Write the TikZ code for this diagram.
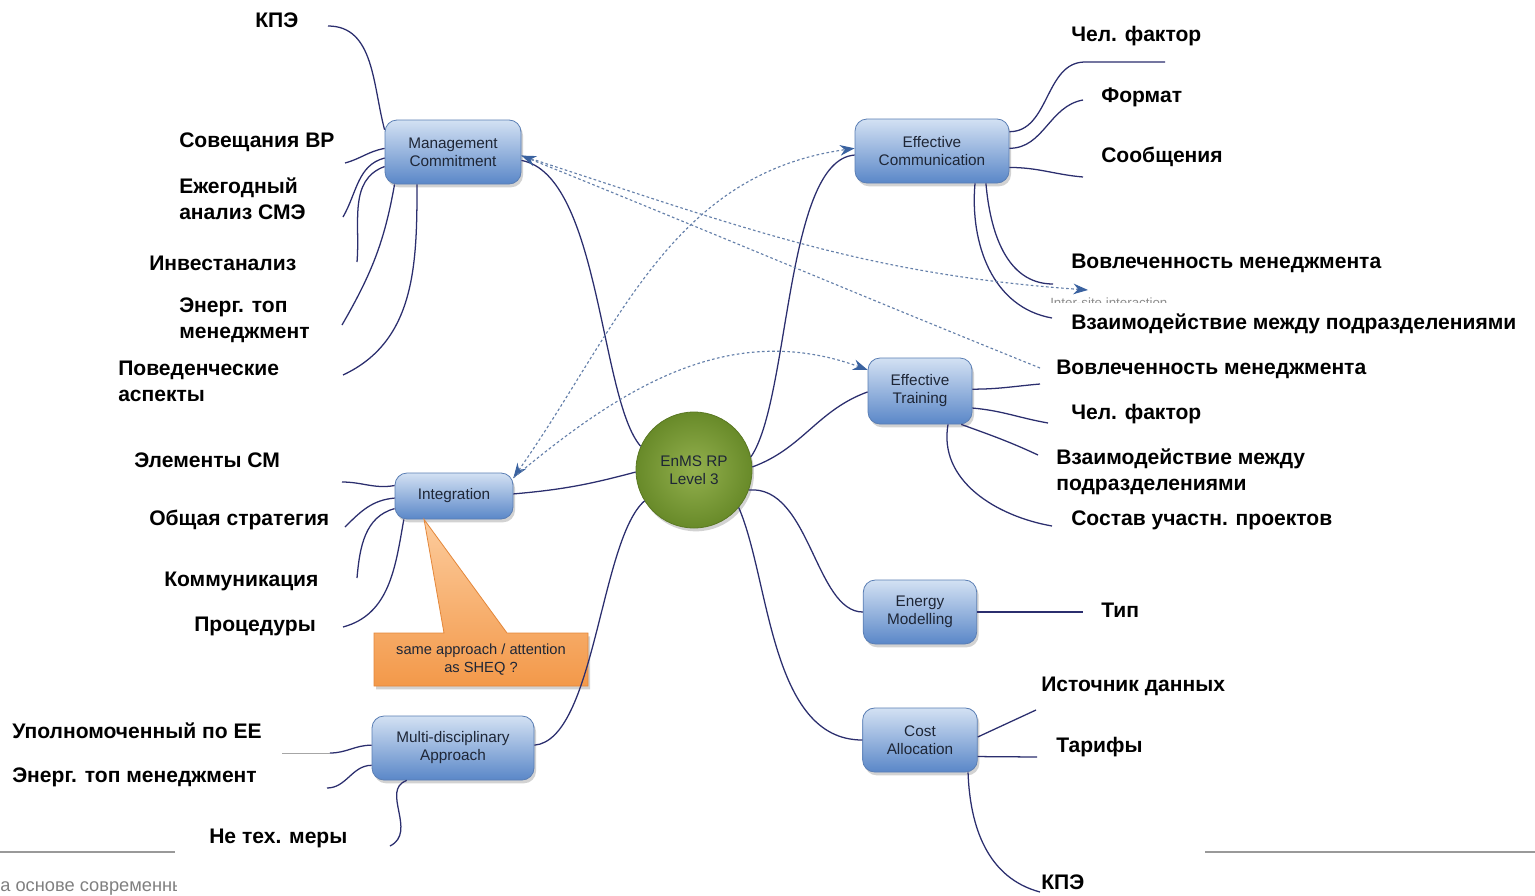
\documentclass[tikz,border=0pt]{standalone}
\usepackage{fontspec}
\setmainfont{Liberation Sans}
\usetikzlibrary{arrows.meta,shadows}
\definecolor{navy}{HTML}{2B2E6E}
\definecolor{linkblue}{HTML}{6580AA}
\definecolor{arrowblue}{HTML}{3A62A0}
\definecolor{boxtop}{HTML}{D3E1F3}
\definecolor{boxbot}{HTML}{5A87C8}
\definecolor{boxedge}{HTML}{5A7EB4}
\definecolor{boxtext}{HTML}{1E2636}
\definecolor{hubin}{HTML}{93B04E}
\definecolor{hubout}{HTML}{688A29}
\definecolor{hubedge}{HTML}{5A7823}
\definecolor{calltop}{HTML}{FCCB9C}
\definecolor{callbot}{HTML}{F3994A}
\definecolor{calledge}{HTML}{E4873A}
\begin{document}
\begin{tikzpicture}[x=0.75pt,y=-0.75pt,
  topic/.style={rectangle,rounded corners=9pt,draw=boxedge,line width=0.6pt,top color=boxtop,bottom color=boxbot,
    drop shadow={opacity=0.35,shadow xshift=1.5pt,shadow yshift=-2.5pt},
    font=\fontsize{11.5}{13.5}\selectfont,text=boxtext,align=center,inner sep=2pt,minimum height=48pt},
  hub/.style={circle,draw=hubedge,line width=0.6pt,inner color=hubin,outer color=hubout,minimum size=87pt,
    drop shadow={opacity=0.35,shadow xshift=1.5pt,shadow yshift=-2.5pt},
    font=\fontsize{11.5}{13.5}\selectfont,text=boxtext,align=center},
  callout/.style={draw=calledge,line width=0.6pt,top color=calltop,bottom color=callbot,
    drop shadow={opacity=0.35,shadow xshift=1.5pt,shadow yshift=-2.5pt}},
  lbl/.style={anchor=west,align=left,inner sep=0pt,font=\bfseries\fontsize{15.8}{19.5}\selectfont},
  branch/.style={draw=navy,line width=0.95pt},
  link/.style={draw=linkblue,line width=0.85pt,dash pattern=on 2pt off 1.8pt,
    >={Stealth[length=11pt,width=8pt,color=arrowblue]}},
  footer/.style={draw=black!40,line width=1.5pt}]
  \path[use as bounding box,fill=white] (0,0) rectangle (1535,896);

  \node[hub] (enms) at (694,470) {EnMS RP\\Level 3};
  \node[topic,minimum width=102pt] (mc) at (453,152) {Management\\Commitment};
  \node[topic,minimum width=115.5pt] (ec) at (932,151) {Effective\\Communication};
  \node[topic,minimum width=78pt,minimum height=49.5pt] (et) at (920,391) {Effective\\Training};
  \node[topic,minimum width=88.5pt,minimum height=34.5pt] (ig) at (454,496) {Integration};
  \node[topic,minimum width=85pt] (em) at (920,612) {Energy\\Modelling};
  \node[topic,minimum width=86pt] (ca) at (920,740) {Cost\\Allocation};
  \node[topic,minimum width=121.5pt] (ma) at (453,748) {Multi-disciplinary\\Approach};

  \path[callout] (374,633) -- (444,633) -- (ig.218) -- (507,633) -- (588,633) -- (588,686) -- (374,686) -- cycle;
  \node[font=\fontsize{11}{13.5}\selectfont,text=boxtext,align=center] (sheq) at (481,660) {same approach / attention\\as SHEQ ?};

  \node[lbl] (kpe1) at (255,20) {КПЭ};
  \node[lbl] (sovbr) at (179,142) {Совещания ВР};
  \node[lbl] (ezh) at (179,199) {Ежегодный\\анализ СМЭ};
  \node[lbl] (invest) at (149,263) {Инвестанализ};
  \node[lbl] (entop1) at (179,320) {Энерг. топ\\менеджмент};
  \node[lbl] (poved) at (118,381) {Поведенческие\\аспекты};
  \node[lbl] (elsm) at (134,460) {Элементы СМ};
  \node[lbl] (strat) at (149,520) {Общая стратегия};
  \node[lbl] (komm) at (164,581) {Коммуникация};
  \node[lbl] (proc) at (194,626) {Процедуры};
  \node[lbl] (upol) at (12,731) {Уполномоченный по ЕЕ};
  \node[lbl] (entop2) at (12,777) {Энерг. топ менеджмент};
  \node[lbl] (netech) at (209,838) {Не тех. меры};
  \node[lbl] (chf1) at (1071,36) {Чел. фактор};
  \node[lbl] (format) at (1101,97) {Формат};
  \node[lbl] (soob) at (1101,157) {Сообщения};
  \node[lbl] (vov1) at (1071,263) {Вовлеченность менеджмента};
  \node[lbl] (vz1) at (1071,324) {Взаимодействие между подразделениями};
  \node[lbl] (vov2) at (1056,369) {Вовлеченность менеджмента};
  \node[lbl] (chf2) at (1071,414) {Чел. фактор};
  \node[lbl] (vz2) at (1056,472) {Взаимодействие между\\подразделениями};
  \node[lbl] (sostav) at (1071,520) {Состав участн. проектов};
  \node[lbl] (tip) at (1101,610) {Тип};
  \node[lbl] (istoch) at (1041,686) {Источник данных};
  \node[lbl] (tarif) at (1056,747) {Тарифы};
  \node[lbl] (kpe2) at (1041,882) {КПЭ};

  \coordinate (kpe1-e) at (328,26);
  \coordinate (sovbr-e) at (345,163);
  \coordinate (ezh-e) at (343,217);
  \coordinate (invest-e) at (357,262);
  \coordinate (entop1-e) at (342,325);
  \coordinate (poved-e) at (343,375);
  \coordinate (elsm-e) at (342,482);
  \coordinate (strat-e) at (345,527);
  \coordinate (komm-e) at (357,578);
  \coordinate (proc-e) at (343,627);
  \coordinate (upol-e) at (282,753);
  \coordinate (entop2-e) at (327,788);
  \coordinate (netech-e) at (390,846);
  \coordinate (chf1-a) at (1085,62);
  \coordinate (chf1-e) at (1165,62);
  \coordinate (format-e) at (1083,100);
  \coordinate (soob-e) at (1083,177);
  \coordinate (vov1-e) at (1053,284);
  \coordinate (vz1-e) at (1052,318);
  \coordinate (vov2-e) at (1040,384);
  \coordinate (chf2-e) at (1048,423);
  \coordinate (vz2-e) at (1038,455);
  \coordinate (sostav-e) at (1052,526);
  \coordinate (tip-e) at (1083,612);
  \coordinate (istoch-e) at (1036,710);
  \coordinate (tarif-e) at (1037,757);
  \coordinate (kpe2-e) at (1040,892);
  \coordinate (inter-e) at (1088,290);
  \coordinate (inter-s) at (1040,368);

  \draw[branch] (enms.156) .. controls (600,400) and (600,175) .. (mc.-7);
  \draw[branch] (enms.13) .. controls (790,400) and (785,160) .. (ec.183);
  \draw[branch] (enms.3) to[out=20,in=200] (et.181);
  \draw[branch] (enms.182) to[out=195,in=5] (ig.2);
  \draw[branch] (enms.-20) .. controls (810,485) and (815,612) .. (em.west);
  \draw[branch] (enms.-40) .. controls (770,580) and (770,740) .. (ca.west);
  \draw[branch] (enms.-148) .. controls (600,540) and (595,740) .. (ma.2);

  \draw[branch] (kpe1-e) to[out=0,in=105] (mc.162);
  \draw[branch] (sovbr-e) to[out=15,in=190] (mc.177);
  \draw[branch] (ezh-e) to[out=60,in=195] (mc.185);
  \draw[branch] (invest-e) to[out=85,in=200] (mc.192);
  \draw[branch] (entop1-e) to[out=60,in=260] (mc.209);
  \draw[branch] (poved-e) to[out=25,in=270] (mc.222);

  \draw[branch] (elsm-e) to[out=0,in=190] (ig.170);
  \draw[branch] (strat-e) to[out=45,in=185] (ig.182);
  \draw[branch] (komm-e) to[out=85,in=195] (ig.192);
  \draw[branch] (proc-e) to[out=15,in=260] (ig.205);

  \draw[draw=black!35,line width=0.6pt] (upol-e) -- ++(48,0) coordinate (upol-k);
  \draw[branch] (upol-k) to[out=0,in=180] (ma.178);
  \draw[branch] (entop2-e) to[out=0,in=180] (ma.192);
  \draw[branch] (netech-e) .. controls (418,832) and (380,790) .. (ma.215);

  \draw[branch] (ec.14) to[out=0,in=180] (chf1-a) -- (chf1-e);
  \draw[branch] (ec.2) to[out=0,in=190] (format-e);
  \draw[branch] (ec.-12) to[out=0,in=175] (soob-e);
  \draw[branch] (ec.-31) to[out=-85,in=180] (vov1-e);
  \draw[branch] (ec.-37) to[out=-95,in=170] (vz1-e);

  \draw[branch] (et.2) to[out=0,in=185] (vov2-e);
  \draw[branch] (et.-18) to[out=-5,in=170] (chf2-e);
  \draw[branch] (et.-39) to[out=-20,in=155] (vz2-e);
  \draw[branch] (et.-50) to[out=-100,in=170] (sostav-e);

  \draw[branch] (em.east) -- (tip-e);
  \draw[branch] (ca.3) -- (istoch-e);
  \draw[branch] (ca.-16) -- (tarif-e);
  \draw[branch] (ca.-34) to[out=-88,in=165] (kpe2-e);

  \draw[link,->] (mc.357) to[out=-18,in=176] (inter-e);
  \draw[link,->] (inter-s) to[out=158,in=-22] (mc.357);
  \draw[link,<->] (ig.17) to[out=55,in=188] (ec.178);
  \draw[link,->] (ig.17) to[out=40,in=160] (et.158);

  \begin{scope}
    \clip (1045,290) rectangle (1200,302);
    \node[anchor=base west,inner sep=0pt,text=black!45,font=\fontsize{10}{12}\selectfont] (inter) at (1050,307) {Inter-site interaction};
  \end{scope}

  \draw[footer] (0,852) -- (175,852);
  \draw[footer] (1205,852) -- (1535,852);
  \begin{scope}
    \clip (0,860) rectangle (176,896);
    \node[anchor=west,inner sep=0pt,text=black!50,font=\fontsize{13.7}{15}\selectfont] (src) at (-10,888) {на основе современных};
  \end{scope}
\end{tikzpicture}
\end{document}
